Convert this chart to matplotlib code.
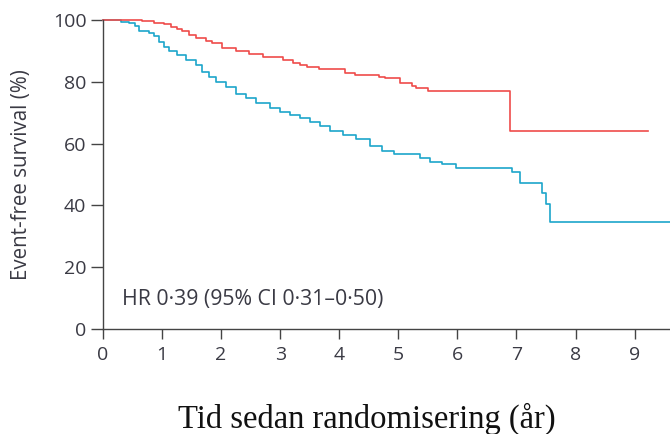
import matplotlib.pyplot as plt

# --- Kaplan-Meier step data ---
# red arm (lower hazard)
red_t = [0, 0.66, 0.87, 1.04, 1.15, 1.26, 1.34, 1.45, 1.57, 1.74, 1.85, 2.02, 2.25, 2.48,
         2.71, 3.05, 3.22, 3.33, 3.45, 3.65, 4.1, 4.27, 4.67, 4.78, 5.03, 5.24, 5.3, 5.51,
         6.89, 9.22]
red_s = [100, 99.7, 99.1, 98.6, 97.8, 97.1, 96.4, 95.1, 94.1, 93.2, 92.5, 90.8, 90.0, 88.9,
         88.0, 87.1, 86.0, 85.4, 84.9, 84.0, 83.0, 82.2, 81.7, 81.1, 79.7, 78.6, 77.9, 77.0,
         64.2, 64.2]

# blue arm (control)
blue_t = [0, 0.30, 0.44, 0.55, 0.61, 0.78, 0.87, 0.95, 1.04, 1.12, 1.26, 1.40, 1.57, 1.68,
          1.80, 1.91, 2.08, 2.25, 2.42, 2.59, 2.82, 2.99, 3.16, 3.33, 3.50, 3.67, 3.84, 4.07,
          4.29, 4.52, 4.72, 4.92, 5.37, 5.54, 5.74, 5.97, 6.93, 7.06, 7.44, 7.50, 7.56, 9.6]
blue_s = [100, 99.5, 98.9, 98.2, 96.4, 95.7, 94.9, 93.0, 91.4, 90.0, 88.7, 87.1, 85.4, 83.3,
          81.7, 80.0, 78.2, 76.0, 74.7, 73.0, 71.4, 70.1, 69.3, 68.2, 67.1, 65.8, 64.1, 62.8,
          61.4, 59.2, 57.7, 56.6, 55.2, 54.1, 53.3, 52.2, 50.8, 47.4, 43.9, 40.4, 34.7, 34.7]

x_ticks = [0, 1, 2, 3, 4, 5, 6, 7, 8, 9]
y_ticks = [0, 20, 40, 60, 80, 100]

red_col = '#ef4c4a'
blue_col = '#1ca6cb'
txt_col = '#3a3a44'

fig = plt.figure(figsize=(6.7, 4.34), dpi=100)
ax = fig.add_axes([103 / 670, 1 - 329 / 434, 1 - 103 / 670, (329 - 20) / 434])

ax.plot(blue_t, blue_s, drawstyle='steps-post', color=blue_col, lw=1.2, clip_on=False)
ax.plot(red_t, red_s, drawstyle='steps-post', color=red_col, lw=1.2, clip_on=False)

ax.set_xlim(0, 9.6)
ax.set_ylim(0, 100)
ax.set_xticks(x_ticks)
ax.set_yticks(y_ticks)

for side in ['top', 'right']:
    ax.spines[side].set_visible(False)
for side in ['left', 'bottom']:
    ax.spines[side].set_color('#444444')
    ax.spines[side].set_linewidth(1.0)

ax.tick_params(direction='out', width=1.0, color='#444444',
               labelcolor=txt_col, labelsize=14)
ax.tick_params(axis='y', length=9, pad=3)
ax.tick_params(axis='x', length=7.5, pad=5)
for lab in ax.get_xticklabels() + ax.get_yticklabels():
    lab.set_family('Open Sans')

# axis titles placed where they sit in the reference
fig.text(22 / 670, 1 - 175 / 434, 'Event-free survival (%)', rotation=90,
         fontsize=14.8, color=txt_col, family='Open Sans', ha='center', va='center')
fig.text(367 / 670, 1 - 419 / 434, 'Tid sedan randomisering (år)', fontsize=23.5,
         color='#111111', family='Liberation Serif', ha='center', va='center')

ax.text(0.33, 9.4, 'HR 0·39 (95% CI 0·31–0·50)', fontsize=15.3, color=txt_col,
        family='Open Sans', va='center', ha='left')

fig.savefig('out.png', dpi=100)
